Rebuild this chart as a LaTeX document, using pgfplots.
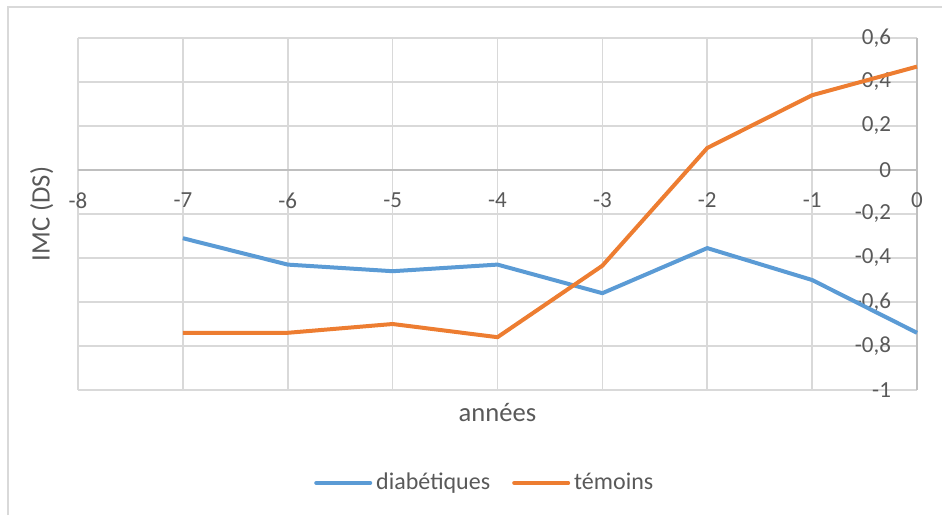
\documentclass[border=0pt]{standalone}
\usepackage{pgfplots}
\pgfplotsset{compat=1.18}
\usepackage{fontspec}
\setmainfont{Carlito}
\definecolor{cblue}{HTML}{5B9BD5}
\definecolor{corange}{HTML}{ED7D31}
\definecolor{gridgray}{HTML}{D9D9D9}
\definecolor{axgray}{HTML}{BFBFBF}
\definecolor{txt}{HTML}{595959}
\begin{document}
\begin{tikzpicture}
\useasboundingbox (0pt,0pt) rectangle (471pt,257.5pt);
\draw[gridgray, line width=1pt] (3.75pt,0pt) -- (3.75pt,253.75pt) -- (475pt,253.75pt);
\begin{axis}[
  at={(39pt,62.5pt)}, anchor=south west,
  scale only axis, width=419.5pt, height=176pt,
  xmin=-8, xmax=0, ymin=-1, ymax=0.6,
  axis x line*=middle, axis y line*=right,
  axis line style={draw=axgray, line width=0.9pt, -},
  xtick={-8,-7,-6,-5,-4,-3,-2,-1,0},
  ytick={-1,-0.8,-0.6,-0.4,-0.2,0,0.2,0.4,0.6},
  hide obscured x ticks=false, hide obscured y ticks=false,
  major tick length=0pt,
  grid=major,
  major grid style={draw=gridgray, line width=0.8pt},
  /pgf/number format/assume math mode=true,
  /pgf/number format/use comma,
  ticklabel style={font=\fontsize{11.5}{13}\selectfont, text=txt},
  yticklabel style={anchor=east, xshift=-9.5pt},
  xticklabel style={anchor=north, yshift=-8pt},
  xlabel={années}, ylabel={IMC (DS)},
  label style={font=\fontsize{13.3}{15}\selectfont, text=txt},
  xlabel style={at={(axis description cs:0.5,-0.017)}, anchor=north},
  ylabel style={at={(axis description cs:-0.021,0.5)}, anchor=south},
  legend columns=2,
  legend style={at={(axis description cs:0.486,-0.264)}, anchor=center, draw=none, fill=none,
    font=\fontsize{12}{14}\selectfont, text=txt, /tikz/every even column/.append style={column sep=9pt}},
  legend image code/.code={\draw[#1, line cap=round] (0pt,0pt) -- (27pt,0pt);},
  clip=false,
]
\addplot[cblue, line width=2pt, line join=round] coordinates {
(-7,-0.31) (-6,-0.43) (-5,-0.46) (-4,-0.43) (-3,-0.56) (-2,-0.355) (-1,-0.50) (0,-0.74)};
\addlegendentry{diabétiques}
\addplot[corange, line width=2pt, line join=round] coordinates {
(-7,-0.74) (-6,-0.74) (-5,-0.70) (-4,-0.76) (-3,-0.435) (-2,0.10) (-1,0.34) (0,0.47)};
\addlegendentry{témoins}
\end{axis}
\end{tikzpicture}
\end{document}
